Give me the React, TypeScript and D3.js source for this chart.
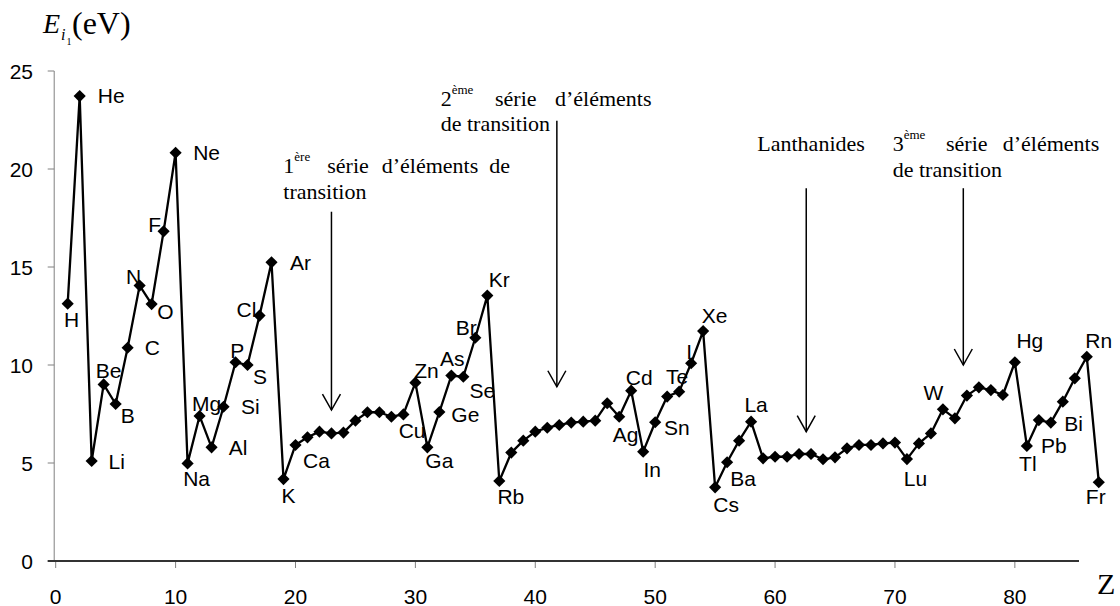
import React from 'react';
import * as d3 from 'd3';

// first ionization energy (eV), Z = index + 1
const energies: number[] = [
  13.13, 23.72, 5.10, 9.01, 8.01, 10.88, 14.05, 13.11, 16.82, 20.83,
  4.98, 7.40, 5.80, 7.87, 10.14, 10.00, 12.52, 15.24, 4.18, 5.92,
  6.31, 6.60, 6.51, 6.55, 7.16, 7.59, 7.59, 7.36, 7.48, 9.10,
  5.80, 7.60, 9.46, 9.40, 11.39, 13.54, 4.08, 5.53, 6.14, 6.60,
  6.80, 6.94, 7.06, 7.11, 7.16, 8.05, 7.36, 8.69, 5.58, 7.08,
  8.39, 8.64, 10.09, 11.73, 3.76, 5.04, 6.14, 7.11, 5.24, 5.32,
  5.32, 5.46, 5.46, 5.19, 5.29, 5.75, 5.92, 5.92, 6.00, 6.04,
  5.20, 6.00, 6.51, 7.74, 7.28, 8.44, 8.86, 8.72, 8.47, 10.14,
  5.87, 7.19, 7.06, 8.13, 9.32, 10.42, 4.02,
];

// labelled elements and the Z of the point they sit on
const labelSymbols = ['H', 'He', 'Li', 'Be', 'B', 'C', 'N', 'O', 'F', 'Ne', 'Na', 'Mg', 'Al', 'Si', 'P', 'S', 'Cl', 'Ar',
  'K', 'Ca', 'Cu', 'Zn', 'Ga', 'Ge', 'As', 'Se', 'Br', 'Kr', 'Rb', 'Ag', 'Cd', 'In', 'Sn', 'Te', 'I', 'Xe',
  'Cs', 'Ba', 'La', 'Lu', 'W', 'Hg', 'Tl', 'Pb', 'Bi', 'Rn', 'Fr'];
const labelZ = [1, 2, 3, 4, 5, 6, 7, 8, 9, 10, 11, 12, 13, 14, 15, 16, 17, 18,
  19, 20, 29, 30, 31, 32, 33, 34, 35, 36, 37, 47, 48, 49, 50, 52, 53, 54,
  55, 56, 58, 71, 74, 80, 81, 82, 83, 86, 87];

const xTicks = [0, 10, 20, 30, 40, 50, 60, 70, 80];
const yTicks = [0, 5, 10, 15, 20, 25];

// arrows: Z position, top and tip in eV
const arrowZ = [23, 41.8, 62.6, 75.7];
const arrowTop = [17.82, 22.46, 19.02, 19.02];
const arrowTip = [7.7, 8.89, 6.6, 10.0];

// label offset from its marker (px)
const labelOffset: Record<string, [number, number]> = {
  H: [4, 15.5], He: [31.5, -1], Li: [25, 0], Be: [5, -13.5], B: [12, 11], C: [24.6, 0], N: [-6, -9],
  O: [13.7, 7], F: [-9, -7], Ne: [31, 0], Na: [9, 14.7], Mg: [7, -12], Al: [26.5, 0], Si: [26.7, 0],
  P: [1.7, -12], S: [12.5, 11], Cl: [-13, -6.5], Ar: [29, 0], K: [5, 16], Ca: [21, 16], Cu: [8.7, 15.7],
  Zn: [11, -12], Ga: [12, 13], Ge: [26, 2], As: [1, -17], Se: [19, 14], Br: [-9, -10.5], Kr: [12, -16],
  Rb: [11.5, 15.7], Ag: [6.5, 18], Cd: [8, -13], In: [9, 18], Sn: [21.7, 5], Te: [-2, -15], I: [-2, -12],
  Xe: [11.5, -15.7], Cs: [11, 17], Ba: [16, 16], La: [5, -16.7], Lu: [8.5, 19], W: [-9.5, -17],
  Hg: [15, -21.5], Tl: [1, 18], Pb: [15, 25], Bi: [22.7, 0.7], Rn: [12, -16], Fr: [-3, 14],
};

const SANS = '"Liberation Sans", Arial, sans-serif';
const SERIF = '"Liberation Serif", "Times New Roman", serif';

const App: React.FC = () => {
  const x = d3.scaleLinear().domain([0, 85.35]).range([55.7, 1079]);
  const y = d3.scaleLinear().domain([0, 25]).range([561, 71]);

  const pts = energies.map((e, i) => ({ z: i + 1, e }));
  const line = d3.line<{ z: number; e: number }>().x(d => x(d.z)).y(d => y(d.e));
  const diamond = d3.symbol().type(d3.symbolSquare).size(74)();

  const serifText = { fontFamily: SERIF, fontSize: 22, fill: '#000' } as const;
  const sup = (s: string) => <tspan fontSize={13} dy={-12}>{s}</tspan>;

  return (
    <svg width={1120} height={606} style={{ position: 'absolute', left: 0, top: 0, background: '#fff' }}>
      {/* y axis */}
      <line x1={x(0) - 1.5} x2={x(0) - 1.5} y1={y(25)} y2={y(0)} stroke="#808080" strokeWidth={1} />
      {yTicks.map(t => (
        <g key={t}>
          <line x1={x(0) - 8} x2={x(0) - 1.5} y1={y(t)} y2={y(t)} stroke="#808080" />
          <text x={33} y={y(t)} textAnchor="end" dominantBaseline="central" fontFamily={SANS} fontSize={21}>{t}</text>
        </g>
      ))}
      {/* x axis */}
      {xTicks.map(t => (
        <g key={t}>
          <line x1={x(t)} x2={x(t)} y1={y(0)} y2={y(0) + 7} stroke="#808080" />
          <text x={x(t)} y={596} textAnchor="middle" dominantBaseline="central" fontFamily={SANS} fontSize={21}>{t}</text>
        </g>
      ))}
      <line x1={x(0) - 8} x2={x(85.35)} y1={y(0)} y2={y(0)} stroke="#333" strokeWidth={2} />

      {/* axis titles */}
      <text x={43} y={33} fontFamily={SERIF} fontSize={28}>
        <tspan fontStyle="italic">E</tspan>
      </text>
      <text x={61} y={40} fontFamily={SERIF} fontSize={16} fontStyle="italic">i</text>
      <text x={66.5} y={45} fontFamily={SERIF} fontSize={10}>1</text>
      <text x={72} y={34} fontFamily={SERIF} fontSize={32}>(eV)</text>
      <text x={1097} y={594} fontFamily={SERIF} fontSize={30}>Z</text>

      {/* series */}
      <path d={line(pts) ?? ''} fill="none" stroke="#000" strokeWidth={2.3} strokeLinejoin="round" />
      {pts.map(p => (
        <path key={p.z} d={diamond ?? ''} transform={`translate(${x(p.z)},${y(p.e)}) rotate(45)`} fill="#000" />
      ))}

      {/* element labels */}
      {labelSymbols.map((s, i) => {
        const z = labelZ[i];
        const [dx, dy] = labelOffset[s];
        return (
          <text key={s} x={x(z) + dx} y={y(energies[z - 1]) + dy} textAnchor="middle" dominantBaseline="central"
            fontFamily={SANS} fontSize={21} fill="#000">{s}</text>
        );
      })}

      {/* arrows */}
      {arrowZ.map((z, i) => {
        const ax = x(z);
        const tip = y(arrowTip[i]);
        return (
          <g key={i} stroke="#000" strokeWidth={1.5} fill="none">
            <line x1={ax} x2={ax} y1={y(arrowTop[i])} y2={tip} />
            <polyline points={`${ax - 9},${tip - 16} ${ax},${tip} ${ax + 9},${tip - 16}`} />
          </g>
        );
      })}

      {/* annotations */}
      <text {...serifText} y={173}>
        <tspan x={283.3}>1</tspan>{sup('ère')}
        <tspan x={327.3} y={173}>série</tspan>
        <tspan x={381.7}>d’éléments</tspan>
        <tspan x={489.3}>de</tspan>
      </text>
      <text {...serifText} x={283.3} y={199}>transition</text>

      <text {...serifText} y={105.5}>
        <tspan x={440.7}>2</tspan>{sup('ème')}
        <tspan x={495} y={105.5}>série</tspan>
        <tspan x={555}>d’éléments</tspan>
      </text>
      <text {...serifText} x={440.7} y={131}>de transition</text>

      <text {...serifText} x={757.3} y={150.7}>Lanthanides</text>

      <text {...serifText} y={150.7}>
        <tspan x={892.7}>3</tspan>{sup('ème')}
        <tspan x={946} y={150.7}>série</tspan>
        <tspan x={1002.7}>d’éléments</tspan>
      </text>
      <text {...serifText} x={892.7} y={176.7}>de transition</text>
    </svg>
  );
};

export default App;
